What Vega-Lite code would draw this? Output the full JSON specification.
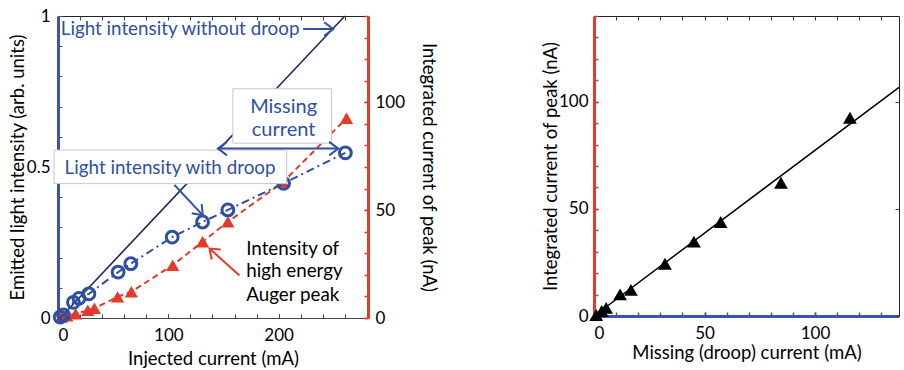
{
  "$schema": "https://vega.github.io/schema/vega-lite/v6.json",
  "padding": {"left": 7, "top": 6, "right": 0, "bottom": 0},
  "background": "white",
  "config": {
    "font": "Lato",
    "view": {"stroke": "#222", "strokeWidth": 1},
    "axis": {"labelFont": "Lato", "titleFont": "Lato", "labelFontSize": 17, "titleFontSize": 18.5, "titleFontWeight": "normal", "labelColor": "black", "titleColor": "black", "grid": false, "tickColor": "#444", "domainColor": "#444", "tickSize": -4, "labelPadding": 11, "labelOverlap": false}
  },
  "datasets": {
    "droop": [
      {"current": 2, "intensity": 0.003}, {"current": 5, "intensity": 0.01}, {"current": 14, "intensity": 0.052},
      {"current": 19, "intensity": 0.065}, {"current": 28, "intensity": 0.08}, {"current": 54.5, "intensity": 0.152},
      {"current": 66, "intensity": 0.18}, {"current": 103.5, "intensity": 0.268}, {"current": 131, "intensity": 0.318},
      {"current": 154, "intensity": 0.358}, {"current": 204.5, "intensity": 0.446}, {"current": 260.5, "intensity": 0.547}
    ],
    "auger": [
      {"current": 3, "nA": 0.5}, {"current": 8, "nA": 1}, {"current": 16, "nA": 2}, {"current": 27, "nA": 3.6},
      {"current": 33, "nA": 4.5}, {"current": 54, "nA": 9.8}, {"current": 66.5, "nA": 12.2}, {"current": 104, "nA": 24.5},
      {"current": 131, "nA": 35.3}, {"current": 154, "nA": 44.6}, {"current": 204, "nA": 63}, {"current": 261.5, "nA": 92.6}
    ],
    "ideal": [{"current": 2, "intensity": 0}, {"current": 260, "intensity": 1}],
    "boxes": [
      {"label": "missing", "current": 158.5, "current2": 248, "intensity": 0.579, "intensity2": 0.759},
      {"label": "droop", "current": -3.6, "current2": 207.3, "intensity": 0.445, "intensity2": 0.556}
    ],
    "bluetext": [
      {"text": "Light intensity without droop", "current": 2.5, "intensity": 0.957, "anchor": "left"},
      {"text": "Light intensity with droop", "current": 6, "intensity": 0.497, "anchor": "left"},
      {"text": "Missing", "current": 204.5, "intensity": 0.70, "anchor": "center"},
      {"text": "current", "current": 204.5, "intensity": 0.623, "anchor": "center"}
    ],
    "blacktext": [
      {"text": "Intensity of", "current": 170.6, "intensity": 0.230},
      {"text": "high energy", "current": 170.6, "intensity": 0.155},
      {"text": "Auger peak", "current": 170.6, "intensity": 0.075}
    ],
    "shafts": [
      {"arrow": "nodroop", "current": 222.2, "intensity": 0.957, "current2": 249.5, "intensity2": 0.957},
      {"arrow": "missing", "current": 145, "intensity": 0.561, "current2": 254, "intensity2": 0.561},
      {"arrow": "droop", "current": 105.5, "intensity": 0.441, "current2": 131.3, "intensity2": 0.340},
      {"arrow": "auger", "current": 164.5, "intensity": 0.141, "current2": 137.3, "intensity2": 0.230}
    ],
    "heads": [
      {"arrow": "nodroop", "current": 249.5, "intensity": 0.957},
      {"arrow": "missingR", "current": 254, "intensity": 0.561},
      {"arrow": "missingL", "current": 145, "intensity": 0.561},
      {"arrow": "droop", "current": 131.3, "intensity": 0.340},
      {"arrow": "auger", "current": 137.3, "intensity": 0.230}
    ],
    "missing": [
      {"missing": 1, "nA": 0.5}, {"missing": 3.5, "nA": 2.3}, {"missing": 5.5, "nA": 3.8}, {"missing": 11.8, "nA": 10.1},
      {"missing": 16.7, "nA": 12.2}, {"missing": 32.1, "nA": 24.4}, {"missing": 45.2, "nA": 34.7}, {"missing": 57.3, "nA": 43.9},
      {"missing": 84.6, "nA": 62.2}, {"missing": 115.8, "nA": 92.5}
    ],
    "fit": [{"missing": 0, "nA": 0}, {"missing": 138, "nA": 106.7}]
  },
  "hconcat": [
    {
      "width": 310,
      "height": 302,
      "layer": [
        {
          "layer": [
            {
              "layer": [
                {
                  "data": {"name": "auger"},
                  "mark": {"type": "line", "color": "#e5392a", "strokeWidth": 2, "strokeDash": [6, 4]},
                  "encoding": {
                    "x": {"field": "current", "type": "quantitative", "scale": {"domain": [0, 281], "nice": false, "zero": false}, "axis": null},
                    "y": {"field": "nA", "type": "quantitative", "scale": {"domain": [0, 140], "nice": false},
                      "axis": {"orient": "right", "title": "Integrated current of peak (nA)", "values": [0, 50, 100], "labelOverlap": false,
                        "domainColor": "#e8392a", "domainWidth": 3, "tickColor": "#e8392a", "tickWidth": 1.5, "labelPadding": 11, "titlePadding": 14}}
                  }
                },
                {
                  "data": {"name": "auger"},
                  "mark": {"type": "point", "shape": "triangle-up", "filled": true, "color": "#e5392a", "size": 175, "opacity": 1},
                  "encoding": {
                    "x": {"field": "current", "type": "quantitative"},
                    "y": {"field": "nA", "type": "quantitative"}
                  }
                }
              ]
            },
            {
              "data": {"values": [{"nA": 0}]},
              "mark": {"type": "point", "opacity": 0},
              "encoding": {
                "y": {"field": "nA", "type": "quantitative",
                  "axis": {"orient": "right", "title": null, "labels": false, "domain": false, "tickColor": "#e8392a", "tickWidth": 1.5, "values": [0,10,20,30,40,50,60,70,80,90,100,110,120,130,140]}}
              }
            }
          ],
          "resolve": {"axis": {"y": "independent"}}
        },
        {
          "layer": [
            {
              "layer": [
                {
                  "data": {"name": "ideal"},
                  "mark": {"type": "line", "color": "#1c2a5e", "strokeWidth": 1.6},
                  "encoding": {
                    "x": {"field": "current", "type": "quantitative", "scale": {"domain": [0, 281], "nice": false, "zero": false},
                      "axis": {"orient": "bottom", "title": "Injected current (mA)", "values": [0, 100, 200], "labelOverlap": false, "labelPadding": 13, "titlePadding": 6}},
                    "y": {"field": "intensity", "type": "quantitative", "scale": {"domain": [0, 1], "nice": false},
                      "axis": {"orient": "left", "title": "Emitted light intensity (arb. units)", "values": [0, 0.5, 1], "labelOverlap": false,
                        "labelExpr": "datum.value == 0.5 ? '0.5' : '' + datum.value",
                        "domainColor": "#3b55a6", "domainWidth": 3, "tickColor": "#3b55a6", "labelPadding": 12, "titlePadding": -1}}
                  }
                },
                {
                  "data": {"name": "droop"},
                  "mark": {"type": "line", "color": "#2f4fa3", "strokeWidth": 2, "strokeDash": [8, 4, 2, 4]},
                  "encoding": {
                    "x": {"field": "current", "type": "quantitative"},
                    "y": {"field": "intensity", "type": "quantitative"}
                  }
                },
                {
                  "data": {"name": "droop"},
                  "mark": {"type": "point", "shape": "circle", "filled": false, "color": "#2f4fa3", "size": 140, "strokeWidth": 3, "opacity": 1},
                  "encoding": {
                    "x": {"field": "current", "type": "quantitative"},
                    "y": {"field": "intensity", "type": "quantitative"}
                  }
                },
                {
                  "data": {"name": "boxes"},
                  "mark": {"type": "rect", "fill": "white", "stroke": "#c8c8c8", "strokeWidth": 1},
                  "encoding": {
                    "x": {"field": "current", "type": "quantitative"},
                    "x2": {"field": "current2"},
                    "y": {"field": "intensity", "type": "quantitative"},
                    "y2": {"field": "intensity2"}
                  }
                },
                {
                  "data": {"name": "bluetext"},
                  "transform": [{"filter": "datum.anchor == 'left'"}],
                  "mark": {"type": "text", "align": "left", "baseline": "middle", "font": "Lato", "fontSize": 18.8, "color": "#2f4fa3"},
                  "encoding": {
                    "x": {"field": "current", "type": "quantitative"},
                    "y": {"field": "intensity", "type": "quantitative"},
                    "text": {"field": "text"}
                  }
                },
                {
                  "data": {"name": "bluetext"},
                  "transform": [{"filter": "datum.anchor == 'center'"}],
                  "mark": {"type": "text", "align": "center", "baseline": "middle", "font": "Lato", "fontSize": 20, "color": "#2f4fa3"},
                  "encoding": {
                    "x": {"field": "current", "type": "quantitative"},
                    "y": {"field": "intensity", "type": "quantitative"},
                    "text": {"field": "text"}
                  }
                },
                {
                  "data": {"name": "blacktext"},
                  "mark": {"type": "text", "align": "left", "baseline": "middle", "font": "Lato", "fontSize": 18.8, "color": "black"},
                  "encoding": {
                    "x": {"field": "current", "type": "quantitative"},
                    "y": {"field": "intensity", "type": "quantitative"},
                    "text": {"field": "text"}
                  }
                },
                {
                  "data": {"name": "shafts"},
                  "transform": [{"filter": "datum.arrow != 'auger'"}],
                  "mark": {"type": "rule", "color": "#2f4fa3", "strokeWidth": 2},
                  "encoding": {
                    "x": {"field": "current", "type": "quantitative"},
                    "x2": {"field": "current2"},
                    "y": {"field": "intensity", "type": "quantitative"},
                    "y2": {"field": "intensity2"}
                  }
                },
                {
                  "data": {"name": "shafts"},
                  "transform": [{"filter": "datum.arrow == 'auger'"}],
                  "mark": {"type": "rule", "color": "#e5392a", "strokeWidth": 2},
                  "encoding": {
                    "x": {"field": "current", "type": "quantitative"},
                    "x2": {"field": "current2"},
                    "y": {"field": "intensity", "type": "quantitative"},
                    "y2": {"field": "intensity2"}
                  }
                },
                {
                  "data": {"name": "heads"},
                  "transform": [{"filter": "datum.arrow == 'nodroop' || datum.arrow == 'missingR'"}],
                  "mark": {"type": "point", "shape": "M-1,-0.75L0,0L-1,0.75", "filled": false, "color": "#2f4fa3", "strokeWidth": 2, "size": 324, "angle": 0, "opacity": 1},
                  "encoding": {
                    "x": {"field": "current", "type": "quantitative"},
                    "y": {"field": "intensity", "type": "quantitative"}
                  }
                },
                {
                  "data": {"name": "heads"},
                  "transform": [{"filter": "datum.arrow == 'missingL'"}],
                  "mark": {"type": "point", "shape": "M-1,-0.75L0,0L-1,0.75", "filled": false, "color": "#2f4fa3", "strokeWidth": 2, "size": 324, "angle": 180, "opacity": 1},
                  "encoding": {
                    "x": {"field": "current", "type": "quantitative"},
                    "y": {"field": "intensity", "type": "quantitative"}
                  }
                },
                {
                  "data": {"name": "heads"},
                  "transform": [{"filter": "datum.arrow == 'droop'"}],
                  "mark": {"type": "point", "shape": "M-1,-0.75L0,0L-1,0.75", "filled": false, "color": "#2f4fa3", "strokeWidth": 2, "size": 324, "angle": 47, "opacity": 1},
                  "encoding": {
                    "x": {"field": "current", "type": "quantitative"},
                    "y": {"field": "intensity", "type": "quantitative"}
                  }
                },
                {
                  "data": {"name": "heads"},
                  "transform": [{"filter": "datum.arrow == 'auger'"}],
                  "mark": {"type": "point", "shape": "M-1,-0.75L0,0L-1,0.75", "filled": false, "color": "#e5392a", "strokeWidth": 2, "size": 324, "angle": 221.6, "opacity": 1},
                  "encoding": {
                    "x": {"field": "current", "type": "quantitative"},
                    "y": {"field": "intensity", "type": "quantitative"}
                  }
                }
              ]
            },
            {
              "data": {"values": [{"current": 0, "intensity": 0}]},
              "mark": {"type": "point", "opacity": 0},
              "encoding": {
                "x": {"field": "current", "type": "quantitative",
                  "axis": {"orient": "bottom", "title": null, "labels": false, "domain": false, "values": [0,20,40,60,80,100,120,140,160,180,200,220,240,260,280]}},
                "y": {"field": "intensity", "type": "quantitative",
                  "axis": {"orient": "left", "title": null, "labels": false, "domain": false, "tickColor": "#3b55a6", "values": [0,0.1,0.2,0.3,0.4,0.5,0.6,0.7,0.8,0.9,1]}}
              }
            }
          ],
          "resolve": {"axis": {"x": "independent", "y": "independent"}}
        },
        {
          "data": {"values": [{"current": 0}]},
          "mark": {"type": "point", "opacity": 0},
          "encoding": {
            "x": {"field": "current", "type": "quantitative",
              "axis": {"orient": "top", "title": null, "labels": false, "domain": false, "values": [0,20,40,60,80,100,120,140,160,180,200,220,240,260,280]}}
          }
        }
      ],
      "resolve": {"scale": {"y": "independent"}, "axis": {"x": "independent", "y": "independent"}}
    },
    {
      "width": 305,
      "height": 300,
      "layer": [
        {
          "layer": [
            {
              "data": {"name": "fit"},
              "mark": {"type": "line", "color": "black", "strokeWidth": 1.5},
              "encoding": {
                "x": {"field": "missing", "type": "quantitative", "scale": {"domain": [0, 138], "nice": false},
                  "axis": {"orient": "bottom", "title": "Missing (droop) current (mA)", "values": [0, 50, 100], "labelOverlap": false,
                    "domainColor": "#3b55a6", "domainWidth": 3, "tickColor": "#3b55a6", "tickWidth": 1.5, "labelPadding": 13, "titlePadding": 2}},
                "y": {"field": "nA", "type": "quantitative", "scale": {"domain": [0, 140], "nice": false},
                  "axis": {"orient": "left", "title": "Integrated current of peak (nA)", "values": [0, 50, 100], "labelOverlap": false,
                    "domainColor": "#e8392a", "domainWidth": 3, "tickColor": "#e8392a", "tickWidth": 1.5, "labelPadding": 10, "titlePadding": -2}}
              }
            },
            {
              "data": {"name": "missing"},
              "mark": {"type": "point", "shape": "triangle-up", "filled": true, "color": "black", "size": 190, "opacity": 1},
              "encoding": {
                "x": {"field": "missing", "type": "quantitative"},
                "y": {"field": "nA", "type": "quantitative"}
              }
            }
          ]
        },
        {
          "data": {"values": [{"missing": 0, "nA": 0}]},
          "mark": {"type": "point", "opacity": 0},
          "encoding": {
            "x": {"field": "missing", "type": "quantitative",
              "axis": {"orient": "bottom", "title": null, "labels": false, "domain": false, "tickColor": "#3b55a6", "tickWidth": 1.5, "values": [0,10,20,30,40,50,60,70,80,90,100,110,120,130]}},
            "y": {"field": "nA", "type": "quantitative",
              "axis": {"orient": "left", "title": null, "labels": false, "domain": false, "tickColor": "#e8392a", "tickWidth": 1.5, "values": [0,10,20,30,40,50,60,70,80,90,100,110,120,130,140]}}
          }
        },
        {
          "data": {"values": [{"missing": 0, "nA": 0}]},
          "mark": {"type": "point", "opacity": 0},
          "encoding": {
            "x": {"field": "missing", "type": "quantitative",
              "axis": {"orient": "top", "title": null, "labels": false, "domain": false, "values": [0,10,20,30,40,50,60,70,80,90,100,110,120,130]}},
            "y": {"field": "nA", "type": "quantitative",
              "axis": {"orient": "right", "title": null, "labels": false, "domain": false, "values": [0,50,100]}}
          }
        }
      ],
      "resolve": {"axis": {"x": "independent", "y": "independent"}}
    }
  ],
  "spacing": 101
}
